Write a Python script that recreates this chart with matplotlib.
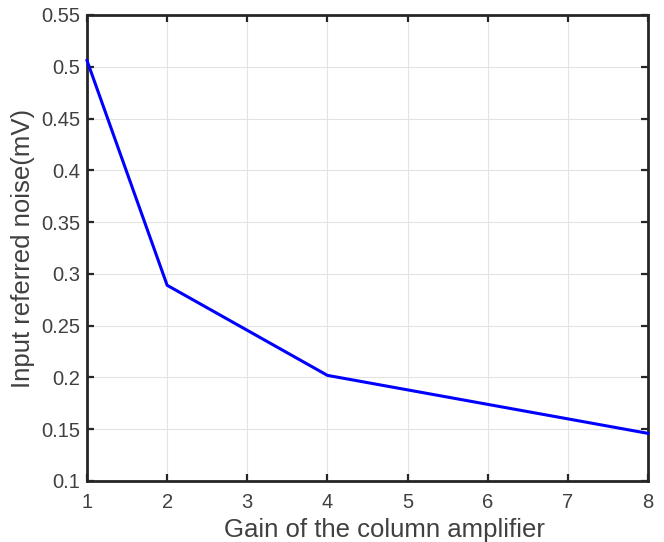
import matplotlib
matplotlib.use("Agg")
import matplotlib.pyplot as plt

gain = [1, 2, 4, 8]
noise_mv = [0.506, 0.289, 0.202, 0.146]

x_ticks = [1, 2, 3, 4, 5, 6, 7, 8]
y_ticks = [0.1, 0.15, 0.2, 0.25, 0.3, 0.35, 0.4, 0.45, 0.5, 0.55]
y_tick_labels = ['0.1', '0.15', '0.2', '0.25', '0.3', '0.35', '0.4', '0.45', '0.5', '0.55']

plt.rcParams['font.family'] = ['Liberation Sans', 'DejaVu Sans']

fig = plt.figure(figsize=(6.64, 5.42), dpi=100)
ax = fig.add_axes([87 / 664, 1 - 481 / 542, (648 - 87) / 664, (481 - 15) / 542])

ax.plot(gain, noise_mv, color='#0000ff', linewidth=2.2, clip_on=False, zorder=3)

ax.set_xlim(1, 8)
ax.set_ylim(0.1, 0.55)
ax.set_xticks(x_ticks)
ax.set_yticks(y_ticks)
ax.set_yticklabels(y_tick_labels)

# MATLAB-like box with inward ticks
ax.grid(True, color='#e3e3e3', linewidth=0.8)
ax.set_axisbelow(True)
for side in ax.spines.values():
    side.set_linewidth(2)
    side.set_color('#262626')
ax.tick_params(direction='in', top=True, right=True, length=5, width=1.6,
               color='#262626', labelsize=14.5, labelcolor='#404040')
ax.tick_params(axis='x', pad=9)
ax.tick_params(axis='y', pad=5)

ax.set_xlabel('Gain of the column amplifier', fontsize=18.5, color='#404040')
ax.xaxis.set_label_coords(0.53, -0.08, transform=ax.transAxes)
ax.xaxis.label.set_va('top')
ax.set_ylabel('Input referred noise(mV)', fontsize=18.5, color='#404040', labelpad=4)

fig.savefig('out.png', dpi=100)
